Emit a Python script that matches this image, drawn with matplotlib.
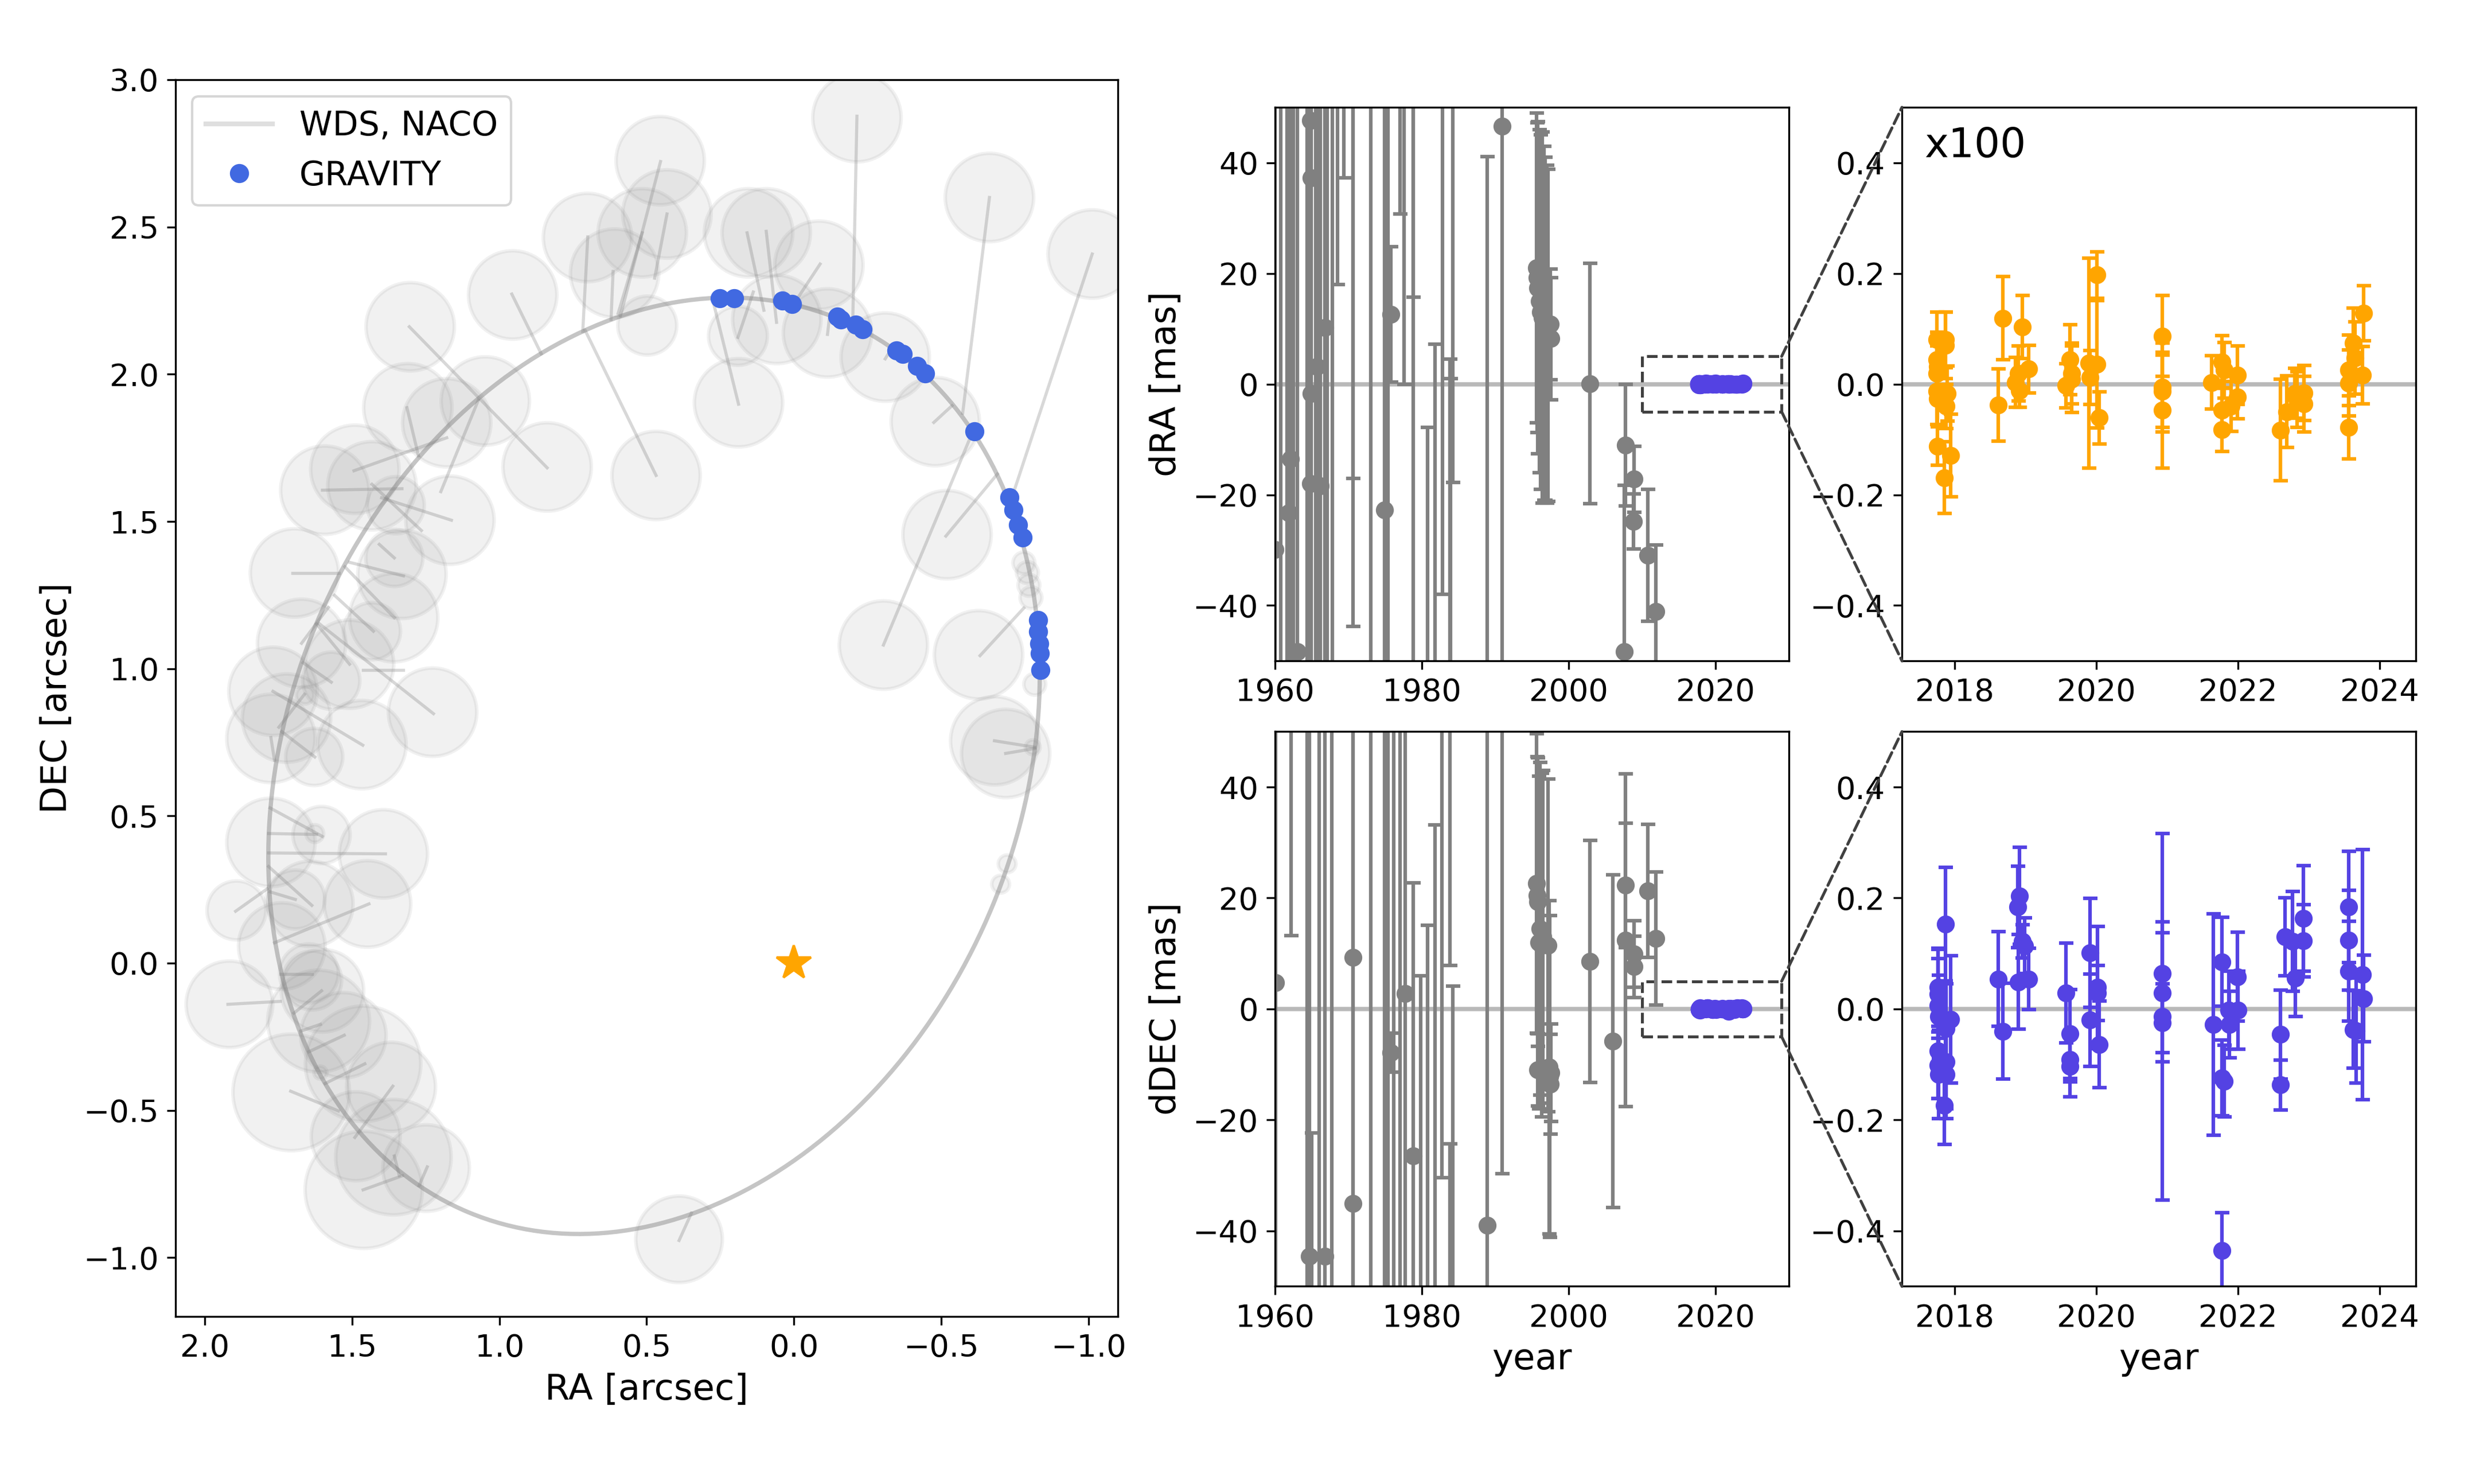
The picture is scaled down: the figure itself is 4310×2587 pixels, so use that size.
import matplotlib
matplotlib.use("Agg")
import matplotlib.pyplot as plt
from matplotlib.patches import Circle, Ellipse, Rectangle, ConnectionPatch
from matplotlib.lines import Line2D

# ---------------- orbit panel (arcsec) ----------------
# WDS / NACO measurements: centre and error radius
circ_ra = [0.454, 0.431, 0.515, 0.701, 0.609, 0.498, 0.154, 0.094, -0.085, 0.190,
           0.188, 0.058, -0.114, -0.310, -0.214, -0.664, -1.013, -0.480, -0.520, -0.304,
           -0.627, 0.468, -0.682, -0.719, -0.811, -0.724, -0.702, -0.781, -0.793, -0.798,
           -0.805, -0.818,
           0.955, 1.303, 0.838, 1.311, 1.048, 1.179, 1.491, 1.593, 1.433, 1.352, 1.168,
           1.696, 1.672, 1.769, 1.723, 1.776, 1.629, 1.467, 1.227, 1.509, 1.571, 1.433,
           1.359, 1.331, 1.357, 1.660, 1.776, 1.604, 1.627, 1.394, 1.693, 1.642, 1.893,
           1.448, 1.739, 1.647, 1.601, 1.917,
           1.636, 1.614, 1.530, 1.463, 1.707, 1.368, 1.488, 1.360, 1.461, 1.249, 0.390, 1.608]
circ_dec = [2.725, 2.544, 2.480, 2.464, 2.343, 2.165, 2.480, 2.480, 2.370, 2.130,
            1.903, 2.186, 2.140, 2.058, 2.871, 2.600, 2.408, 1.839, 1.455, 1.080,
            1.047, 1.656, 0.755, 0.712, 0.733, 0.337, 0.268, 1.359, 1.326, 1.283,
            1.241, 0.947,
            2.269, 2.161, 1.685, 1.886, 1.909, 1.835, 1.677, 1.606, 1.621, 1.555, 1.504,
            1.325, 1.086, 0.923, 0.832, 0.763, 0.700, 0.742, 0.852, 1.015, 0.959, 1.127,
            1.173, 1.320, 1.376, 0.910, 0.410, 0.435, 0.440, 0.371, 0.216, 0.201, 0.179,
            0.201, 0.058, -0.035, -0.094, -0.140,
            -0.059, -0.197, -0.245, -0.342, -0.439, -0.420, -0.588, -0.659, -0.770, -0.696,
            -0.938, -0.372]
circ_err = [0.15, 0.15, 0.15, 0.15, 0.15, 0.10, 0.15, 0.15, 0.15, 0.10,
            0.15, 0.15, 0.15, 0.15, 0.15, 0.15, 0.15, 0.15, 0.15, 0.15,
            0.15, 0.15, 0.15, 0.15, 0.025, 0.03, 0.03, 0.037, 0.037, 0.037,
            0.037, 0.037,
            0.15, 0.15, 0.15, 0.15, 0.15, 0.15, 0.15, 0.15, 0.15, 0.097, 0.15,
            0.15, 0.15, 0.15, 0.15, 0.15, 0.097, 0.15, 0.15, 0.15, 0.097, 0.097,
            0.15, 0.15, 0.097, 0.03, 0.15, 0.097, 0.03, 0.15, 0.10, 0.145, 0.10,
            0.147, 0.147, 0.10, 0.14, 0.147,
            0.10, 0.173, 0.145, 0.196, 0.198, 0.151, 0.151, 0.196, 0.199, 0.147, 0.147, 0.022]

# offsets between measurement and orbit model (start RA, start DEC, end RA, end DEC)
seg_ra0 = [0.958, 1.306, 1.072, 1.314, 1.494, 1.601, 1.433, 1.40, 0.700, 0.614, 0.709,
           -0.214, -0.664, -1.013, -0.475, -0.516, -0.304, 0.159, 0.094, -0.089, 0.138,
           0.277, 0.453, -0.114, -0.31, 0.431, 0.515,
           1.703, 1.509, 1.525, 1.408, 1.560, 1.672, 1.621, 1.611, 1.667, 1.464, 1.769,
           1.749, 1.739, 1.776, 1.779, 1.784, 1.784, 1.784, 1.779, 1.896, 1.764, 1.744,
           1.922, 1.698,
           1.608, 1.527, 1.457, 1.709, 1.362, 1.463, 1.245, 1.357, 0.390,
           -0.632, -0.681, -0.719]
seg_dec0 = [2.272, 2.161, 1.911, 1.886, 1.672, 1.606, 1.626, 1.58, 2.466, 2.349, 2.149,
            2.876, 2.600, 2.408, 1.836, 1.450, 1.080, 2.480, 2.485, 2.374, 2.279,
            2.258, 2.722, 2.135, 2.052, 2.544, 2.480,
            1.325, 1.361, 1.346, 1.422, 1.249, 1.086, 1.152, 1.152, 1.020, 0.995, 0.923,
            0.801, 0.786, 0.766, 0.527, 0.440, 0.374, 0.328, 0.242, 0.176, 0.069, -0.038,
            -0.140, -0.170,
            -0.208, -0.245, -0.342, -0.435, -0.418, -0.770, -0.692, -0.655, -0.942,
            1.044, 0.755, 0.712]
seg_ra1 = [0.858, 0.838, 1.199, 1.275, 1.179, 1.331, 1.265, 1.163, 0.717, 0.621, 0.468,
           -0.200, -0.573, -0.743, -0.537, -0.691, -0.599, 0.102, 0.059, 0.004, 0.190,
           0.188, 0.589, -0.12, -0.336, 0.473, 0.597,
           1.545, 1.326, 1.357, 1.357, 1.428, 1.581, 1.509, 1.224, 1.571, 1.326, 1.464,
           1.662, 1.627, 1.764, 1.601, 1.621, 1.387, 1.637, 1.693, 1.789, 1.443, 1.637,
           1.744, 1.604,
           1.675, 1.647, 1.592, 1.547, 1.491, 1.329, 1.273, 1.340, 0.348,
           -0.781, -0.818, -0.818]
seg_dec1 = [2.069, 1.682, 1.601, 1.723, 1.784, 1.611, 1.469, 1.504, 2.145, 2.186, 1.656,
            2.186, 1.867, 1.589, 1.893, 1.661, 1.785, 2.217, 2.176, 2.233, 2.125,
            1.898, 2.198, 2.186, 2.094, 2.326, 2.206,
            1.325, 1.315, 1.173, 1.376, 1.127, 1.208, 1.015, 0.847, 0.954, 0.995, 0.740,
            0.913, 0.700, 0.689, 0.430, 0.437, 0.371, 0.196, 0.216, 0.252, 0.201, -0.038,
            -0.130, -0.094,
            -0.231, -0.301, -0.409, -0.502, -0.592, -0.722, -0.756, -0.722, -0.849,
            1.206, 0.733, 0.729]

# GRAVITY positions
grav_ra = [0.252, 0.203, 0.039, 0.006, -0.148, -0.160, -0.210, -0.234, -0.349, -0.369,
           -0.418, -0.446, -0.614, -0.731, -0.746, -0.761, -0.776, -0.830, -0.830, -0.833,
           -0.835, -0.838]
grav_dec = [2.257, 2.257, 2.249, 2.238, 2.196, 2.186, 2.169, 2.152, 2.081, 2.068,
            2.028, 2.002, 1.806, 1.581, 1.539, 1.489, 1.446, 1.164, 1.125, 1.085,
            1.052, 0.996]

# apparent orbit: centre, full axes, position angle (deg)
orbit_center = (0.475, 0.67)
orbit_axes = (3.284, 2.488)
orbit_angle = -67.5

# ---------------- residuals vs time (mas) ----------------
wds_ra_year = [1960.0, 1961.9, 1962.1, 1963.0, 1964.8, 1964.9, 1964.9, 1964.8, 1965.7, 1966.2,
               1966.8, 1974.9, 1975.8, 1990.9,
               1960.8, 1961.6, 1962.5, 1964.4, 1965.5, 1967.1, 1967.8, 1968.5, 1969.4, 1970.6,
               1970.6, 1973.0, 1975.4, 1977.0, 1977.6, 1978.8, 1978.8, 1980.8, 1981.8, 1982.8,
               1983.8, 1983.9, 1984.2, 1988.9,
               1995.6, 1995.7, 1995.8, 1996.0, 1996.2, 1996.4, 1996.6, 1996.8, 1997.0, 1997.5,
               1997.6, 1997.2,
               2002.9, 2007.7, 2007.6, 2008.9, 2008.8, 2010.8, 2011.9]
wds_ra = [-29.9, -23.3, -13.5, -48.3, 47.6, 37.3, -1.7, -18.0, 3.2, -18.4,
          10.2, -22.7, 12.6, 46.6,
          80, -80, 70, 90, -90, 80, -70, 60, 70, 60,
          60, 80, 80, 60, 60, 60, -80, -60, -60, 70,
          -60, -60, 70, -70,
          21.0, 19.2, 17.4, 15.0, 13.0, 12.0, 11.0, 10.0, 9.0, 10.8,
          8.2, 8.8,
          0.1, -11.0, -48.3, -17.2, -24.8, -30.9, -41.1]
wds_ra_err = [100, 100, 100, 100, 100, 100, 100, 100, 100, 100,
              100, 100, 12.2, 100,
              150, 150, 120, 150, 150, 140, 130, 42, 32.7, 77,
              103.8, 200, 150, 29.3, 60, 44.3, 150, 52.2, 67.2, 108,
              64.5, 61, 87.8, 111.1,
              28, 28, 30, 31, 32, 33.5, 32, 31, 30.5, 10,
              11, 30,
              21.7, 11.0, 30, 6.0, 5.0, 11.9, 12.0]

wds_dec_year = [1960.1, 1970.6, 1970.6, 1964.7, 1965.0, 1966.8, 1975.8, 1977.7, 1978.8, 1988.9,
                1962.2, 1964.4, 1966.0, 1967.7, 1973.0, 1974.9, 1975.4, 1976.2, 1977.0, 1979.8,
                1980.8, 1981.8, 1982.7, 1983.8, 1983.8, 1984.2, 1990.9,
                1995.6, 1995.7, 1995.8, 1995.9, 1996.1, 1996.3, 1996.5, 1997.3, 1997.4, 1997.5,
                1997.6, 1995.8, 1997.2,
                2002.9, 2006.0, 2007.7, 2007.7, 2008.9, 2008.9, 2010.8, 2011.9]
wds_dec = [4.7, 9.3, -35.1, -44.6, -80, -44.6, -7.9, 2.8, -26.5, -39.0,
           60, 90, 80, -60, -80, 80, -80, 70, -70, -60,
           -60, -60, 70, 60, -70, -60, 70,
           22.6, 20.5, 19.3, 12.0, 14.5, 11.5, 13.0, -10.5, -12.2, -13.6,
           -11.5, -11.0, 11.5,
           8.6, -5.8, 22.3, 12.4, 9.9, 7.6, 21.3, 12.7]
wds_dec_err = [100, 100, 100, 100, 57.7, 100, 3.5, 100, 49.2, 100,
               46.8, 200, 150, 150, 200, 150, 150, 150, 150, 66,
               75.1, 93.2, 100.4, 52.1, 45.7, 64.1, 99.7,
               27, 25, 26, 30, 30, 31, 30, 30, 29, 9,
               8.8, 6.5, 30,
               21.8, 30.0, 11.2, 30.0, 6.0, 5.5, 12.0, 12.0]

grav_ra_year = [2017.75, 2017.75, 2017.76, 2017.75, 2017.75, 2017.76, 2017.76, 2017.87, 2017.87,
                2017.90, 2017.88, 2017.86, 2017.95, 2018.62, 2018.68, 2018.86, 2018.90, 2018.92,
                2018.96, 2019.05, 2019.57, 2019.63, 2019.65, 2019.65, 2019.90, 2019.91, 2020.01,
                2020.01, 2020.04, 2020.93, 2020.93, 2020.93, 2020.93, 2021.63, 2021.77, 2021.77,
                2021.77, 2021.81, 2021.90, 2021.99, 2021.99, 2022.60, 2022.69, 2022.80, 2022.83,
                2022.93, 2022.93, 2023.56, 2023.56, 2023.56, 2023.63, 2023.65, 2023.77, 2023.76]
grav_ra_res = [0.080, 0.044, 0.032, 0.019, -0.013, -0.026, -0.112, 0.080, 0.070,
               -0.017, -0.040, -0.169, -0.129, -0.038, 0.119, 0.003, 0.019, -0.012,
               0.103, 0.027, -0.003, 0.044, 0.019, 0.009, 0.038, 0.012, 0.197,
               0.036, -0.061, 0.087, -0.006, -0.013, -0.047, 0.003, 0.040, -0.047,
               -0.082, 0.025, -0.040, 0.016, -0.023, -0.083, -0.050, -0.017, -0.028,
               -0.016, -0.036, 0.025, 0.002, -0.078, 0.074, 0.047, 0.128, 0.016]
grav_ra_err = [0.050, 0.050, 0.050, 0.050, 0.060, 0.050, 0.035, 0.050, 0.060,
               0.050, 0.040, 0.065, 0.075, 0.065, 0.075, 0.045, 0.050, 0.030,
               0.057, 0.043, 0.040, 0.063, 0.055, 0.060, 0.190, 0.049, 0.042,
               0.115, 0.047, 0.073, 0.080, 0.065, 0.105, 0.048, 0.048, 0.040,
               0.040, 0.050, 0.045, 0.053, 0.040, 0.092, 0.065, 0.045, 0.050,
               0.050, 0.050, 0.064, 0.060, 0.057, 0.063, 0.065, 0.050, 0.052]

grav_dec_year = [2017.77, 2017.77, 2017.77, 2017.78, 2017.77, 2017.77, 2017.78, 2017.87, 2017.87,
                 2017.88, 2017.88, 2017.88, 2017.86, 2017.95, 2018.62, 2018.68, 2018.89, 2018.92,
                 2018.90, 2018.96, 2018.99, 2019.05, 2019.57, 2019.63, 2019.63, 2019.63, 2019.91,
                 2019.91, 2020.02, 2020.02, 2020.04, 2020.93, 2020.93, 2020.93, 2020.93, 2021.65,
                 2021.77, 2021.77, 2021.77, 2021.81, 2021.87, 2021.88, 2021.99, 2022.00, 2022.60,
                 2022.60, 2022.66, 2022.77, 2022.81, 2022.92, 2022.92, 2023.56, 2023.56, 2023.56,
                 2023.63, 2023.67, 2023.76, 2023.77]
grav_dec_res = [0.039, 0.027, 0.006, -0.014, -0.076, -0.101, -0.118, 0.153, -0.024,
                -0.035, -0.095, -0.118, -0.174, -0.019, 0.054, -0.040, 0.184, 0.204,
                0.049, 0.122, 0.114, 0.054, 0.029, -0.045, -0.091, -0.103, 0.101,
                -0.020, 0.039, 0.029, -0.064, 0.064, 0.029, -0.014, -0.025, -0.028,
                0.085, -0.124, -0.435, -0.130, -0.002, -0.028, 0.058, -0.002, -0.046,
                -0.137, 0.130, 0.122, 0.056, 0.163, 0.123, 0.184, 0.124, 0.068,
                -0.037, -0.039, 0.062, 0.019]
grav_dec_err = [0.070, 0.080, 0.085, 0.075, 0.085, 0.060, 0.080, 0.102, 0.075,
                0.080, 0.085, 0.080, 0.070, 0.115, 0.085, 0.086, 0.073, 0.087,
                0.085, 0.030, 0.050, 0.055, 0.090, 0.080, 0.040, 0.055, 0.098,
                0.083, 0.110, 0.050, 0.078, 0.093, 0.108, 0.330, 0.070, 0.200,
                0.080, 0.068, 0.068, 0.065, 0.070, 0.060, 0.080, 0.070, 0.080,
                0.045, 0.070, 0.090, 0.070, 0.095, 0.065, 0.100, 0.090, 0.090,
                0.070, 0.095, 0.225, 0.078]

purple = '#5442e3'

fig = plt.figure(figsize=(4310 / 300, 2587 / 300), dpi=300)
ax_orb = fig.add_axes([0.0710, 0.1129, 0.3812, 0.8334])
ax_ra = fig.add_axes([0.5158, 0.5547, 0.2079, 0.3730])
ax_dec = fig.add_axes([0.5158, 0.1332, 0.2079, 0.3738])
ax_ra_z = fig.add_axes([0.7694, 0.5547, 0.2079, 0.3730])
ax_dec_z = fig.add_axes([0.7694, 0.1332, 0.2079, 0.3738])

# orbit plot
for x, y, r in zip(circ_ra, circ_dec, circ_err):
    ax_orb.add_patch(Circle((x, y), r, color='gray', alpha=0.11, lw=1.5))
for x0, y0, x1, y1 in zip(seg_ra0, seg_dec0, seg_ra1, seg_dec1):
    ax_orb.plot([x0, x1], [y0, y1], color='gray', alpha=0.3, lw=1.3)
ax_orb.add_patch(Ellipse(orbit_center, orbit_axes[0], orbit_axes[1], angle=orbit_angle,
                         fill=False, color='gray', alpha=0.45, lw=1.8))
ax_orb.plot(grav_ra, grav_dec, 'o', color='royalblue', ms=7, zorder=5)
ax_orb.plot(0, 0, '*', color='orange', ms=15, zorder=5)
ax_orb.set_xlim(2.1, -1.1)
ax_orb.set_ylim(-1.2, 3.0)
ax_orb.set_xlabel('RA [arcsec]', fontsize=15)
ax_orb.set_ylabel('DEC [arcsec]', fontsize=15)
ax_orb.tick_params(labelsize=13)
handles = [Line2D([], [], color='gray', alpha=0.25, lw=2),
           Line2D([], [], ls='', marker='o', color='royalblue', ms=7)]
ax_orb.legend(handles, ['WDS, NACO', 'GRAVITY'], loc='upper left', fontsize=14)

# residuals
for ax, yr, val, err, gyr, gval, gerr in [
        (ax_ra, wds_ra_year, wds_ra, wds_ra_err, grav_ra_year, grav_ra_res, grav_ra_err),
        (ax_dec, wds_dec_year, wds_dec, wds_dec_err, grav_dec_year, grav_dec_res, grav_dec_err)]:
    ax.axhline(0, color='gray', alpha=0.55, lw=1.8, zorder=0)
    ax.errorbar(yr, val, yerr=err, fmt='o', color='gray', ms=6.5, capsize=3,
                elinewidth=1.5, capthick=1.5)
    ax.errorbar(gyr, gval, yerr=gerr, fmt='o', color=purple, ms=6.5, capsize=3,
                elinewidth=1.5, capthick=1.5, zorder=4)
    ax.add_patch(Rectangle((2010, -5), 19, 10, fill=False, ls='--', ec='0.25', lw=1.2))
    ax.set_xlim(1960, 2030)
    ax.set_ylim(-50, 50)
    ax.set_xticks([1960, 1980, 2000, 2020])
    ax.set_yticks([-40, -20, 0, 20, 40])
    ax.tick_params(labelsize=13)
ax_ra.set_ylabel('dRA [mas]', fontsize=15)
ax_dec.set_ylabel('dDEC [mas]', fontsize=15)
ax_dec.set_xlabel('year', fontsize=15)

for ax, gyr, gval, gerr, col in [
        (ax_ra_z, grav_ra_year, grav_ra_res, grav_ra_err, 'orange'),
        (ax_dec_z, grav_dec_year, grav_dec_res, grav_dec_err, purple)]:
    ax.axhline(0, color='gray', alpha=0.55, lw=1.8, zorder=0)
    ax.errorbar(gyr, gval, yerr=gerr, fmt='o', color=col, ms=6.5, capsize=3,
                elinewidth=1.5, capthick=1.5)
    ax.set_xlim(2017.26, 2024.51)
    ax.set_ylim(-0.5, 0.5)
    ax.set_xticks([2018, 2020, 2022, 2024])
    ax.set_yticks([-0.4, -0.2, 0.0, 0.2, 0.4])
    ax.tick_params(labelsize=13)
ax_dec_z.set_xlabel('year', fontsize=15)
ax_ra_z.text(0.045, 0.91, 'x100', transform=ax_ra_z.transAxes, fontsize=17)

# zoom connectors
for src, dst in [(ax_ra, ax_ra_z), (ax_dec, ax_dec_z)]:
    for ya, yb in [(5, 1), (-5, 0)]:
        con = ConnectionPatch(xyA=(2029, ya), coordsA=src.transData,
                              xyB=(0, yb), coordsB=dst.transAxes,
                              ls='--', color='0.25', lw=1.2)
        fig.add_artist(con)

fig.savefig('out.png', dpi=300)
